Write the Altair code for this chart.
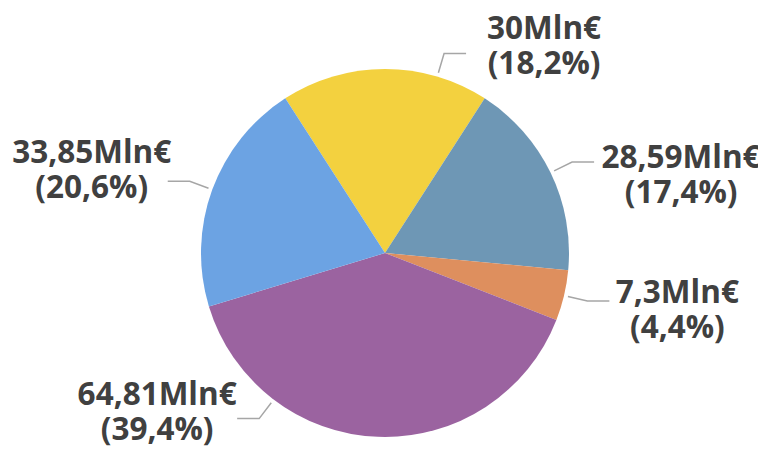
import math
import altair as alt
import pandas as pd

# ---- data ----
categories = ["A", "B", "C", "D", "E"]
values = [30.0, 28.59, 7.3, 64.81, 33.85]
value_labels = ["30Mln€", "28,59Mln€", "7,3Mln€", "64,81Mln€", "33,85Mln€"]
colors = ["#F3D13F", "#6E97B5", "#DE8F5E", "#9B63A0", "#6CA3E3"]

# ---- layout (not data) ----
W, H = 750, 439
CX, CY = 377, 245           # pie centre in chart pixels
R = 184
R_START, R_ELBOW, HSEG = 188, 208, 22
leader_nudge_deg = [16.5, 0, 0, 35, 0]
label_offset = [(78, -24), (87, -3), (68, -7), (-80, -23), (-76, -27)]

total = sum(values)
fracs = [v / total for v in values]
pct_labels = ["(" + f"{f*100:.1f}".replace(".", ",") + "%)" for f in fracs]
start_rad = -fracs[0] * math.pi  # first slice centred at top

pie_df = pd.DataFrame({"cat": categories, "value": values, "ord": list(range(len(values)))})

line_rows, text_rows = [], []
cum = 0.0
for i, f in enumerate(fracs):
    mid = start_rad + (cum + f / 2) * 2 * math.pi
    cum += f
    a = mid + math.radians(leader_nudge_deg[i])
    sx, sy = CX + R_START * math.sin(a), CY - R_START * math.cos(a)
    ex, ey = CX + R_ELBOW * math.sin(a), CY - R_ELBOW * math.cos(a)
    side = 1 if math.sin(a) >= 0 else -1
    hx = ex + side * HSEG
    for j, (px, py) in enumerate([(sx, sy), (ex, ey), (hx, ey)]):
        line_rows.append({"cat": categories[i], "seq": j, "px": px, "py": py})
    dx, dy = label_offset[i]
    text_rows.append({"cat": categories[i], "px": hx + dx, "py": ey + dy,
                      "txt": value_labels[i] + "\n" + pct_labels[i]})

line_df = pd.DataFrame(line_rows)
text_df = pd.DataFrame(text_rows)

pie = alt.Chart(pie_df).mark_arc(radius=R).encode(
    theta=alt.Theta("value:Q", stack=True,
                    scale=alt.Scale(range=[start_rad, start_rad + 2 * math.pi])),
    order=alt.Order("ord:Q"),
    color=alt.Color("cat:N", scale=alt.Scale(domain=categories, range=colors), legend=None),
    x=alt.value(CX),
    y=alt.value(CY),
)

leaders = alt.Chart(line_df).mark_line(color="#A6A6A6", strokeWidth=1.5).encode(
    x=alt.X("px:Q", scale=None, axis=None),
    y=alt.Y("py:Q", scale=None, axis=None),
    detail="cat:N",
    order="seq:Q",
)

labels = alt.Chart(text_df).mark_text(
    font="Open Sans", fontWeight="bold", fontSize=31.5, color="#404040",
    lineBreak="\n", lineHeight=35, align="center", baseline="middle",
).encode(
    x=alt.X("px:Q", scale=None, axis=None),
    y=alt.Y("py:Q", scale=None, axis=None),
    text="txt:N",
)

chart = alt.layer(pie, leaders, labels).properties(
    width=W, height=H, padding=0, autosize=alt.AutoSizeParams(type="none"),
).configure_view(stroke=None)

chart.save("out.html", embed_options={"renderer": "svg", "actions": False})
